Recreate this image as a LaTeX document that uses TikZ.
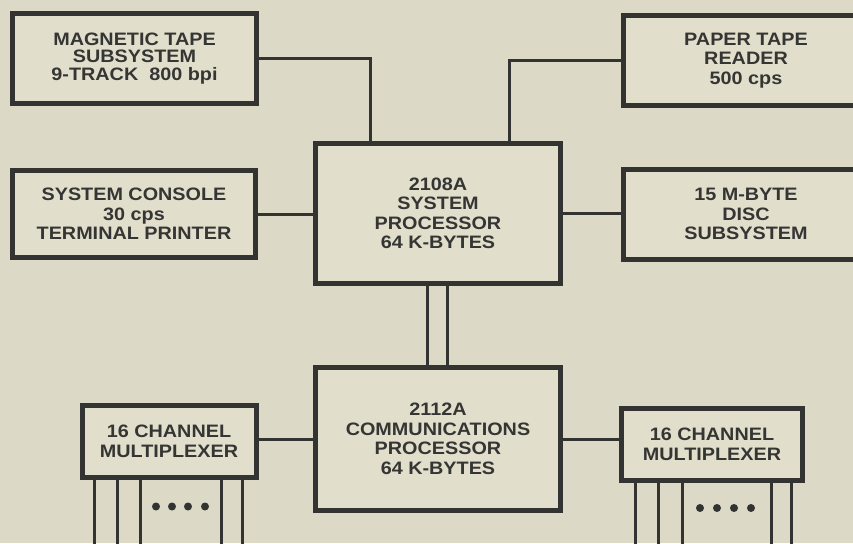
\documentclass[tikz,border=0pt]{standalone}
\usepackage{fontspec}
\newfontfamily\lblfont{Liberation Sans}[FakeStretch=1.1]
\definecolor{paper}{HTML}{DCD9C6}
\definecolor{boxfill}{HTML}{E1DECC}
\definecolor{ink}{HTML}{333331}
\definecolor{txt}{HTML}{353533}
\tikzset{
  box/.style={draw=ink, line width=5pt, fill=boxfill, inner sep=0pt, align=center,
    text=txt, font=\lblfont\bfseries\fontsize{18}{19.5}\selectfont},
  wire/.style={draw=ink, line width=3pt},
  dotmark/.style={fill=ink, draw=none, circle, minimum size=8pt, inner sep=0pt}
}
\begin{document}
\begin{tikzpicture}[x=1pt,y=-1pt]
\fill[paper] (0,0) rectangle (853,543);
\useasboundingbox (0,0) rectangle (853,543);
\clip (0,0) rectangle (853,543);

% boxes
\node[box, minimum width=244pt, minimum height=89pt,
      font=\lblfont\bfseries\fontsize{18}{17.5}\selectfont] (mag) at (134.5,58.5)
  {MAGNETIC TAPE\\SUBSYSTEM\\9-TRACK\ \ 800 bpi};
\node[box, minimum width=243pt, minimum height=87pt] (console) at (134,214)
  {SYSTEM CONSOLE\\30 cps\\TERMINAL PRINTER};
\node[box, minimum width=245pt, minimum height=140pt] (sys) at (438,213.5)
  {2108A\\SYSTEM\\PROCESSOR\\64 K-BYTES};
\node[box, minimum width=245pt, minimum height=143pt] (comm) at (438,439)
  {2112A\\COMMUNICATIONS\\PROCESSOR\\64 K-BYTES};
\node[box, minimum width=245pt, minimum height=90pt] (ptr) at (746,60.5)
  {PAPER TAPE\\READER\\500 cps};
\node[box, minimum width=245pt, minimum height=90pt] (disc) at (746,214)
  {15 M-BYTE\\DISC\\SUBSYSTEM};
\node[box, minimum width=174pt, minimum height=72pt] (muxL) at (169,441.5)
  {16 CHANNEL\\MULTIPLEXER};
\node[box, minimum width=181pt, minimum height=72pt] (muxR) at (712,444.5)
  {16 CHANNEL\\MULTIPLEXER};

% helper coordinates
\coordinate (xa) at (370,0);
\coordinate (xb) at (509,0);
\coordinate (xc) at (427,0);
\coordinate (xd) at (447,0);

% connectors
\draw[wire] (mag.east) -| (xa |- sys.north);
\draw[wire] (ptr.west) -| (xb |- sys.north);
\draw[wire] (console.east) -- (console.east -| sys.west);
\draw[wire] (sys.east) -- (sys.east -| disc.west);
\draw[wire] (xc |- sys.south) -- (xc |- comm.north);
\draw[wire] (xd |- sys.south) -- (xd |- comm.north);
\draw[wire] (comm.west) -- (comm.west -| muxL.east);
\draw[wire] (comm.east) -- (comm.east -| muxR.west);

% multiplexer channel lines
\foreach \x [count=\i] in {94,117,140,221,242} {
  \coordinate (lb\i) at (\x,550);
  \draw[wire] (lb\i |- muxL.south) -- (lb\i);
}
\foreach \x [count=\i] in {635,658,682,771,791} {
  \coordinate (rb\i) at (\x,550);
  \draw[wire] (rb\i |- muxR.south) -- (rb\i);
}
\foreach \x [count=\i] in {156,172,188,205}
  \node[dotmark] (ld\i) at (\x,506.5) {};
\foreach \x [count=\i] in {700,717,734,751}
  \node[dotmark] (rd\i) at (\x,508) {};
\end{tikzpicture}
\end{document}
